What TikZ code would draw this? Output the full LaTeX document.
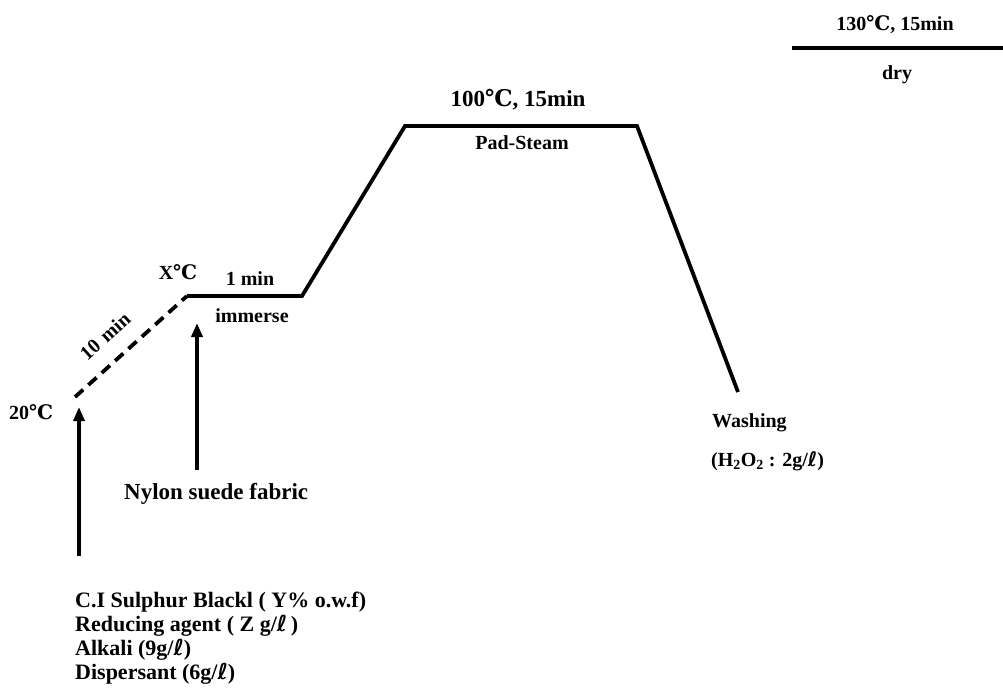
\documentclass[tikz,border=0pt]{standalone}
\usepackage{fontspec}
\setmainfont{Liberation Serif}
\newfontfamily\symf{DejaVu Serif}
\newfontfamily\symsans{DejaVu Sans}
\usetikzlibrary{arrows.meta}
\newcommand{\degc}{{\symf\bfseries ℃}}
\newcommand{\litre}{{\symsans\bfseries ℓ}}
\begin{document}
\begin{tikzpicture}[x=1pt,y=-1pt,
  lbl/.style={font=\bfseries\fontsize{20}{24}\selectfont, inner sep=0pt},
  big/.style={font=\bfseries\fontsize{23}{26}\selectfont, inner sep=0pt},
  curve/.style={line width=3.8pt, line join=miter},
  dashline/.style={line width=3.8pt, dash pattern=on 11pt off 7pt},
  arr/.style={line width=3.6pt, -{Triangle[length=14pt,width=11pt]}}]
\useasboundingbox (0,0) rectangle (1003,691);
\coordinate (p0) at (75,397);
\coordinate (p1) at (187,296);
\coordinate (p2) at (302,296);
\coordinate (p3) at (405,126);
\coordinate (p4) at (637,126);
\coordinate (p5) at (738,392);
\coordinate (d0) at (792,48);
\coordinate (d1) at (1003,48);
\coordinate (a1s) at (79,556);
\coordinate (a1e) at (79,407);
\coordinate (a2s) at (197,470);
\coordinate (a2e) at (197,323);
\draw[dashline] (p0) -- (p1);
\draw[curve] (p1) -- (p2) -- (p3) -- (p4) -- (p5);
\draw[curve] (d0) -- (d1);
\draw[arr] (a1s) -- (a1e);
\draw[arr] (a2s) -- (a2e);
\node[lbl] (t20) at (31,412) {20\degc};
\node[lbl] (tx) at (178,272) {X\degc};
\node[lbl] (t1m) at (250,279) {1 min};
\node[lbl] (timm) at (252,316) {immerse};
\node[lbl, rotate=42] (t10) at (105,336) {10\,\,min};
\node[big] (t100) at (518,100) {100\degc, 15min};
\node[lbl] (tps) at (522,143) {Pad-Steam};
\node[lbl] (t130) at (895,25) {130\degc, 15min};
\node[lbl] (tdry) at (897,75) {dry};
\node[lbl, anchor=west] (twash) at (712,423) {Washing};
\node[lbl, anchor=west] (th2o2) at (711,461) {(H\textsubscript{2}O\textsubscript{2} : 2g/\litre)};
\node[big, anchor=west] (tnyl) at (124,494) {Nylon suede fabric};
\node[lbl, anchor=west, align=left, font=\bfseries\fontsize{22}{24}\selectfont] (tchem) at (75,638)
  {C.I Sulphur Blackl ( Y\% o.w.f)\\Reducing agent ( Z g/\litre\,)\\Alkali (9g/\litre)\\Dispersant (6g/\litre)};
\end{tikzpicture}
\end{document}
